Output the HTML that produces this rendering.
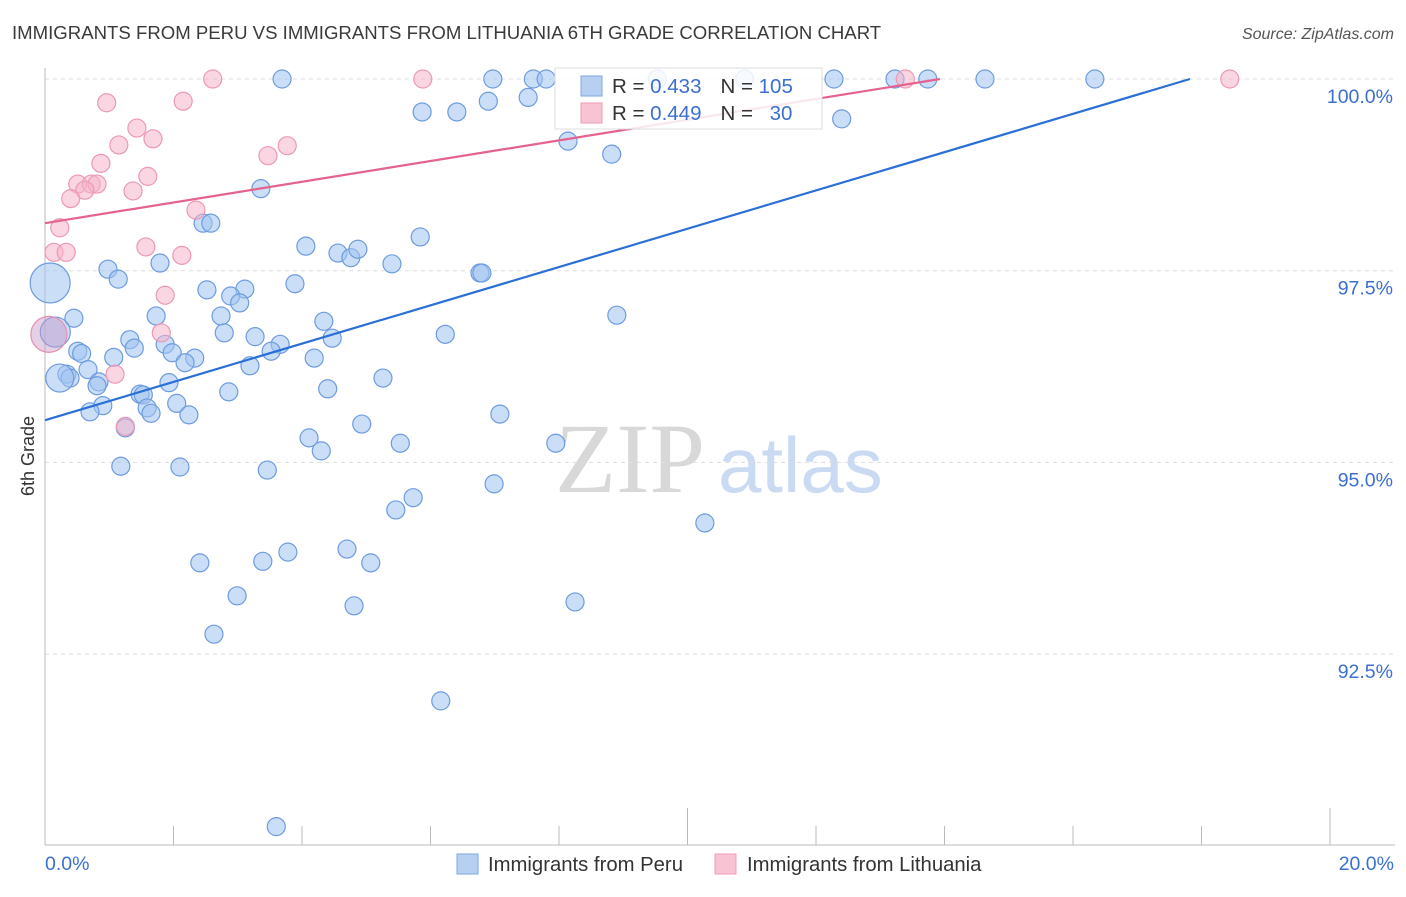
<!DOCTYPE html>
<html><head><meta charset="utf-8"><style>
body{margin:0;background:#fff;font-family:"Liberation Sans",sans-serif}
svg text{font-family:"Liberation Sans",sans-serif}
</style></head><body>
<svg id="c" width="1406" height="892">
<text x="12" y="39" font-size="18.6" fill="#3a3a3a">IMMIGRANTS FROM PERU VS IMMIGRANTS FROM LITHUANIA 6TH GRADE CORRELATION CHART</text>
<text x="1394" y="39" font-size="16" fill="#555" font-style="italic" text-anchor="end">Source: ZipAtlas.com</text>
<text x="34" y="456" font-size="18" fill="#333" transform="rotate(-90 34 456)" text-anchor="middle">6th Grade</text>
<text x="555" y="492" font-size="100" fill="#d8d8d8" style="font-family:'Liberation Serif',serif">ZIP</text>
<text x="718" y="492" font-size="78" fill="#c9daf2">atlas</text>
<g id="grid"></g><g id="axes"></g><g id="pts"></g><g id="lines"></g>
<g>
<rect x="555" y="68" width="267" height="61" fill="rgba(255,255,255,0.85)" stroke="#ddd"/>
<rect x="581" y="76" width="21" height="20" fill="#b7d0f2" stroke="#7ea7e0"/>
<rect x="581" y="103" width="21" height="20" fill="#f8c3d3" stroke="#ee9bb8"/>
<text x="612" y="93" font-size="20.5" fill="#333">R = <tspan fill="#3b6fd0">0.433</tspan><tspan dx="19">N = </tspan><tspan fill="#3b6fd0">105</tspan></text>
<text x="612" y="120" font-size="20.5" fill="#333">R = <tspan fill="#3b6fd0">0.449</tspan><tspan dx="19">N = </tspan><tspan fill="#3b6fd0" dx="11">30</tspan></text>
</g>
<g>
<rect x="457" y="854" width="21" height="20" fill="#b7d0f2" stroke="#7ea7e0"/>
<text x="488" y="871" font-size="20.3" fill="#333">Immigrants from Peru</text>
<rect x="715" y="854" width="21" height="20" fill="#f8c3d3" stroke="#ee9bb8"/>
<text x="747" y="871" font-size="20.3" fill="#333">Immigrants from Lithuania</text>
</g>
<text x="45" y="870" font-size="19.5" fill="#3b6fd0">0.0%</text>
<text x="1394" y="870" font-size="19.5" fill="#3b6fd0" text-anchor="end">20.0%</text>
</svg>
<script>
const yTicks=[100,97.5,95,92.5];
const yTickLabels=["100.0%","97.5%","95.0%","92.5%"];
const peruX=[3.69,6.97,7.60,7.80,9.53,10.89,12.28,13.23,13.74,14.63,16.34,5.87,6.41,6.90,7.52,8.14,8.82,12.40,3.36,2.46,2.58,5.84,4.06,4.56,4.76,4.87,5.40,6.77,6.80,1.79,0.98,1.14,3.89,2.52,3.11,2.89,3.03,1.73,2.74,8.90,4.34,0.45,2.79,3.27,4.47,6.23,1.32,3.66,1.87,1.39,3.52,0.51,0.57,1.98,1.07,2.33,2.18,4.19,3.19,0.67,0.34,0.39,5.26,0.84,0.81,1.93,2.86,4.40,1.48,1.53,0.90,0.70,1.59,1.65,2.05,2.24,7.08,1.25,4.93,4.11,5.53,7.95,4.30,1.18,2.10,3.46,6.99,5.73,5.46,10.27,3.78,4.70,2.41,3.39,5.07,2.99,4.81,8.25,2.63,6.16,3.60];
const peruY=[100,100,100,100,100,100,100,100,100,100,100,99.57,99.57,99.71,99.76,99.19,99.02,99.48,98.57,98.12,98.12,97.94,97.82,97.73,97.67,97.78,97.59,97.47,97.47,97.60,97.52,97.39,97.33,97.25,97.26,97.17,97.08,96.91,96.91,96.92,96.84,96.88,96.69,96.64,96.62,96.67,96.60,96.54,96.54,96.49,96.45,96.45,96.42,96.43,96.37,96.36,96.30,96.36,96.26,96.21,96.15,96.10,96.10,96.05,96.00,96.04,95.92,95.96,95.89,95.88,95.74,95.66,95.71,95.64,95.77,95.62,95.63,95.45,95.50,95.32,95.25,95.25,95.15,94.95,94.94,94.90,94.72,94.54,94.38,94.21,93.83,93.87,93.69,93.71,93.69,93.26,93.13,93.18,92.76,91.89,90.25];
const peruBigX=[0.08,0.16,0.23];
const peruBigY=[97.34,96.70,96.10];
const peruBigR=[20,15,14];
const lithX=[2.61,5.88,13.39,18.44,0.96,2.15,1.43,1.68,1.15,3.77,3.47,0.87,1.60,0.51,0.72,0.81,0.62,1.37,0.40,2.35,0.23,0.14,0.33,1.57,2.13,1.87,1.81,1.09,1.25];
const lithY=[100,100,100,100,99.69,99.71,99.36,99.22,99.14,99.13,99.00,98.90,98.73,98.63,98.63,98.63,98.55,98.54,98.44,98.29,98.06,97.74,97.74,97.81,97.70,97.18,96.69,96.15,95.47];
const lithBigX=[0.06];
const lithBigY=[96.67];
const peruLine=[95.55,100,17.82];
const lithLine=[98.12,100,13.93];
const NS="http://www.w3.org/2000/svg";
const X=v=>45+v*64.25, Y=v=>79+(100-v)*76.68;
function mk(t,a,p){const e=document.createElementNS(NS,t);for(const k in a)e.setAttribute(k,a[k]);p.appendChild(e);return e;}
const grid=document.getElementById('grid'),axes=document.getElementById('axes'),pts=document.getElementById('pts'),lines=document.getElementById('lines');
yTicks.forEach((t,i)=>{
 const l=mk('line',{x1:45,x2:1395,y1:Y(t),y2:Y(t),stroke:'#ddd','stroke-dasharray':'4,4'},grid);
 
 
 const tx=mk('text',{x:1393,y:Y(t)+24,'font-size':19.5,fill:'#3b6fd0','text-anchor':'end'},grid);
 tx.textContent=yTickLabels[i];
 
 
});
const ya=mk('line',{x1:45,x2:45,y1:68,y2:845,stroke:'#bbb'},axes);


const xa=mk('line',{x1:45,x2:1395,y1:845,y2:845,stroke:'#bbb'},axes);


for(let i=0;i<=10;i++){
 const x=X(i*2);
 const tk=mk('line',{x1:x,x2:x,y1:(i==5||i==10)?808:826,y2:845,stroke:'#bbb'},axes);
 
 
}
function dot(x,y,r,fill,stroke,name){
 const c=mk('circle',{cx:X(x),cy:Y(y),r:r,fill:fill,stroke:stroke,'stroke-width':1.2},pts);
 
 
}
peruX.forEach((x,i)=>dot(x,peruY[i],9,'rgba(160,195,240,0.55)','#6e9be0','peru-point'));
peruBigX.forEach((x,i)=>dot(x,peruBigY[i],peruBigR[i],'rgba(160,195,240,0.55)','#6e9be0','peru-point'));
lithX.forEach((x,i)=>dot(x,lithY[i],9,'rgba(246,180,202,0.55)','#ec98b5','lithuania-point'));
lithBigX.forEach((x,i)=>dot(x,lithBigY[i],18,'rgba(200,150,200,0.45)','#e38fb1','lithuania-point'));
const pl=mk('line',{x1:X(0),y1:Y(peruLine[0]),x2:X(peruLine[2]),y2:Y(peruLine[1]),stroke:'#2a6fd6','stroke-width':2.2},lines);


const ll=mk('line',{x1:X(0),y1:Y(lithLine[0]),x2:X(lithLine[2]),y2:Y(lithLine[1]),stroke:'#e5628e','stroke-width':2.2},lines);


</script>
</body></html>
